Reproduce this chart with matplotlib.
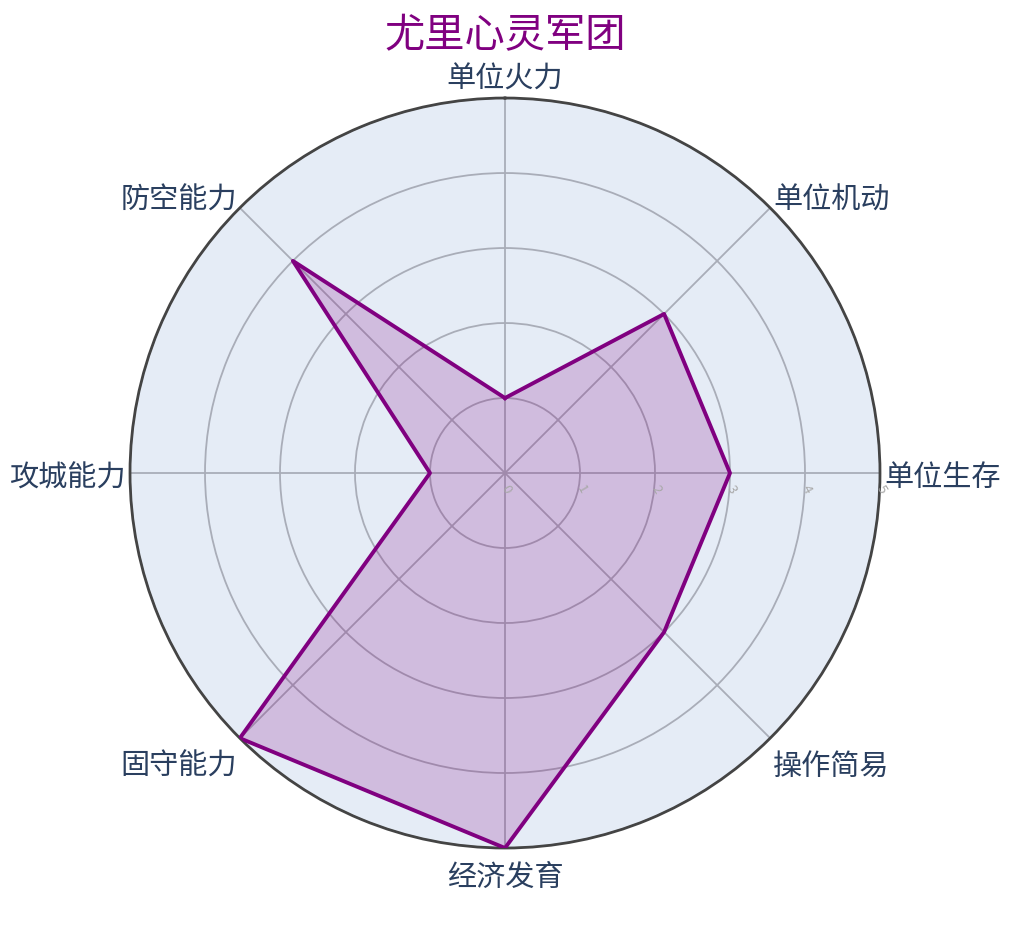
import numpy as np
import matplotlib
matplotlib.use("Agg")
import matplotlib.pyplot as plt

plt.rcParams['font.family'] = ['Noto Sans CJK SC', 'DejaVu Sans']

title = "尤里心灵军团"
categories = ["单位火力", "单位机动", "单位生存", "操作简易", "经济发育", "固守能力", "攻城能力", "防空能力"]
values = [1, 3, 3, 3, 5, 5, 1, 4]
radial_ticks = [0, 1, 2, 3, 4, 5]

fig = plt.figure(figsize=(10.10, 9.29), dpi=100)
ax = fig.add_axes([0.1287, 0.0861, 0.7426, 0.8073], projection='polar')
ax.set_theta_zero_location('N')
ax.set_theta_direction(-1)
ax.set_facecolor('#e5ecf6')

n = len(categories)
angles = np.arange(n) * 2 * np.pi / n
ang_c = np.concatenate([angles, angles[:1]])
val_c = np.concatenate([values, values[:1]])

ax.set_ylim(0, 5)
ax.set_yticks(radial_ticks)
ax.set_yticklabels([])
ax.set_xticks(angles)
ax.set_xticklabels([])
ax.grid(True, color='#a9adb8', linewidth=1.3)
ax.spines['polar'].set_color('#444444')
ax.spines['polar'].set_linewidth(2)

ax.fill(ang_c, val_c, color='#800080', alpha=0.2, zorder=3)
ax.plot(ang_c, val_c, color='#800080', linewidth=2.8, zorder=4)

# category labels outside
for a, lab in zip(angles, categories):
    s = np.sin(a); c = np.cos(a)
    ha = 'center' if abs(s) < 0.1 else ('left' if s > 0 else 'right')
    va = 'center' if abs(c) < 0.1 else ('bottom' if c > 0 else 'top')
    if c > 0.9:
        dy = 0
    elif abs(c) < 0.1:
        dy = -3
    else:
        dy = -7
    ax.annotate(lab, xy=(a, 5.06), xytext=(0, dy), textcoords='offset points',
                ha=ha, va=va, fontsize=21, color='#2a3f5f', annotation_clip=False)

# radial tick labels
for t in radial_ticks:
    ax.annotate(str(t), xy=(np.pi/2, t), xytext=(1, -11), textcoords='offset points',
                ha='center', va='center', fontsize=9.5, color='#a8a8a8',
                rotation=-60, fontstyle='italic', zorder=5, annotation_clip=False)

fig.text(0.5, 0.962, title, ha='center', va='center', fontsize=29, color='#800080')

fig.savefig('out.png', dpi=100)
